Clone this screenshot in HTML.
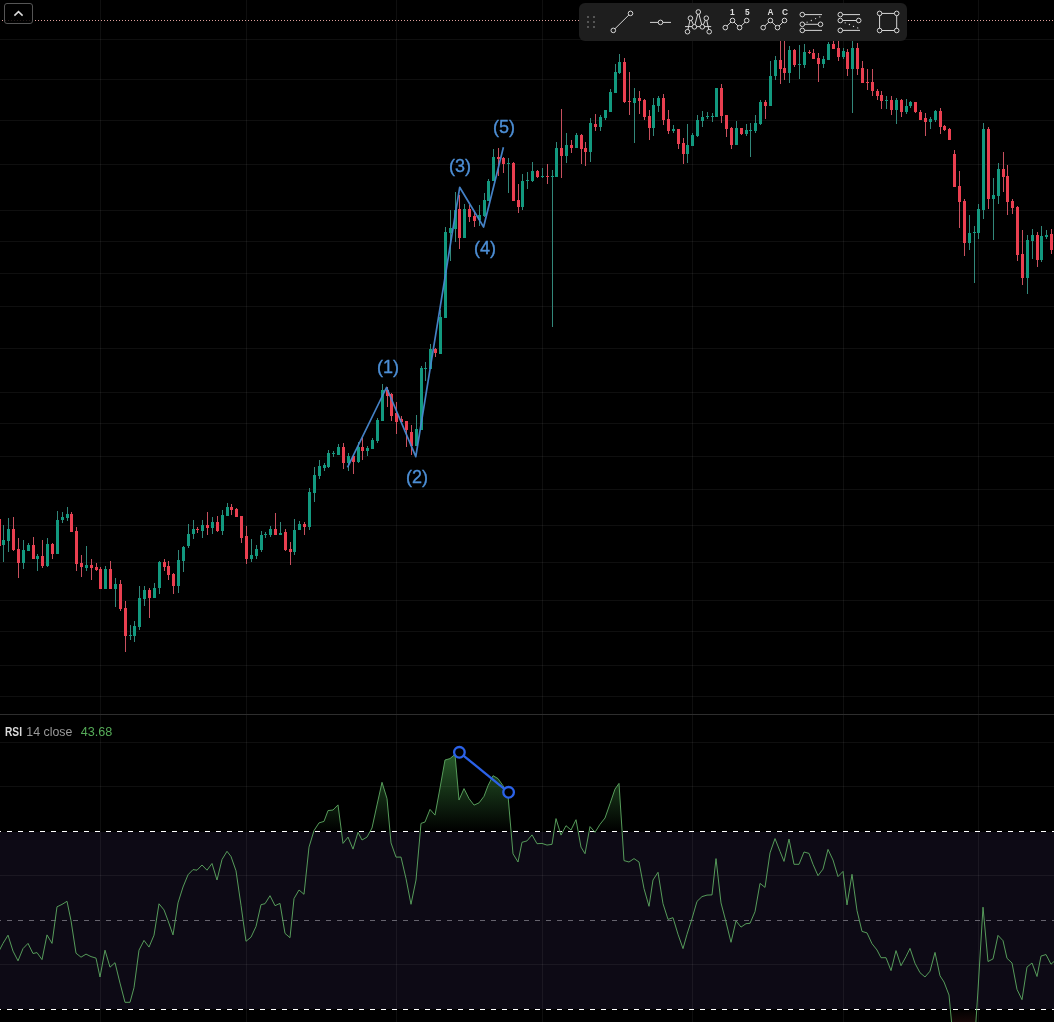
<!DOCTYPE html>
<html lang="en"><head><meta charset="utf-8"><title>Chart</title>
<style>html,body{margin:0;padding:0;background:#000;}body{width:1054px;height:1022px;overflow:hidden;position:relative;font-family:"Liberation Sans",sans-serif;}svg{position:absolute;left:0;top:0;display:block}text{font-family:"Liberation Sans",sans-serif}</style></head><body>
<svg width="1054" height="1022" viewBox="0 0 1054 1022">
<defs>
<linearGradient id="ob" gradientUnits="userSpaceOnUse" x1="0" y1="698" x2="0" y2="831"><stop offset="0" stop-color="#4caf50" stop-opacity="0.9"/><stop offset="1" stop-color="#4caf50" stop-opacity="0"/></linearGradient>
<linearGradient id="os" gradientUnits="userSpaceOnUse" x1="0" y1="1009" x2="0" y2="1142"><stop offset="0" stop-color="#ff5252" stop-opacity="0"/><stop offset="1" stop-color="#ff5252" stop-opacity="1"/></linearGradient>
<clipPath id="cob"><rect x="0" y="715" width="1054" height="116"/></clipPath>
<clipPath id="cos"><rect x="0" y="1010" width="1054" height="12"/></clipPath>
<filter id="idf" x="0" y="0" width="100%" height="100%" filterUnits="userSpaceOnUse" color-interpolation-filters="sRGB"><feColorMatrix type="matrix" values="1 0 0 0 0 0 1 0 0 0 0 0 1 0 0 0 0 0 1 0"/></filter>
</defs>
<rect width="1054" height="1022" fill="#000"/>
<rect x="0" y="832" width="1054" height="177" fill="#0d0a15"/>
<g shape-rendering="crispEdges" fill="#fff" fill-opacity="0.057">
<rect x="100" y="0" width="1" height="1022"/>
<rect x="246" y="0" width="1" height="1022"/>
<rect x="396" y="0" width="1" height="1022"/>
<rect x="542" y="0" width="1" height="1022"/>
<rect x="692" y="0" width="1" height="1022"/>
<rect x="843" y="0" width="1" height="1022"/>
<rect x="978" y="0" width="1" height="1022"/>
<rect x="0" y="39" width="1054" height="1"/>
<rect x="0" y="79" width="1054" height="1"/>
<rect x="0" y="120" width="1054" height="1"/>
<rect x="0" y="164" width="1054" height="1"/>
<rect x="0" y="210" width="1054" height="1"/>
<rect x="0" y="241" width="1054" height="1"/>
<rect x="0" y="273" width="1054" height="1"/>
<rect x="0" y="306" width="1054" height="1"/>
<rect x="0" y="348" width="1054" height="1"/>
<rect x="0" y="392" width="1054" height="1"/>
<rect x="0" y="423" width="1054" height="1"/>
<rect x="0" y="456" width="1054" height="1"/>
<rect x="0" y="489" width="1054" height="1"/>
<rect x="0" y="525" width="1054" height="1"/>
<rect x="0" y="562" width="1054" height="1"/>
<rect x="0" y="600" width="1054" height="1"/>
<rect x="0" y="631" width="1054" height="1"/>
<rect x="0" y="665" width="1054" height="1"/>
<rect x="0" y="696" width="1054" height="1"/>
<rect x="0" y="742" width="1054" height="1"/>
<rect x="0" y="786" width="1054" height="1"/>
<rect x="0" y="875" width="1054" height="1"/>
<rect x="0" y="964" width="1054" height="1"/>
</g>
<g shape-rendering="crispEdges" fill="#e0a09c">
<rect x="2" y="20" width="1" height="1"/><rect x="5" y="20" width="1" height="1"/><rect x="8" y="20" width="1" height="1"/><rect x="11" y="20" width="1" height="1"/><rect x="14" y="20" width="1" height="1"/><rect x="17" y="20" width="1" height="1"/><rect x="20" y="20" width="1" height="1"/><rect x="23" y="20" width="1" height="1"/><rect x="26" y="20" width="1" height="1"/><rect x="29" y="20" width="1" height="1"/><rect x="32" y="20" width="1" height="1"/><rect x="35" y="20" width="1" height="1"/><rect x="38" y="20" width="1" height="1"/><rect x="41" y="20" width="1" height="1"/><rect x="44" y="20" width="1" height="1"/><rect x="47" y="20" width="1" height="1"/><rect x="50" y="20" width="1" height="1"/><rect x="53" y="20" width="1" height="1"/><rect x="56" y="20" width="1" height="1"/><rect x="59" y="20" width="1" height="1"/><rect x="62" y="20" width="1" height="1"/><rect x="65" y="20" width="1" height="1"/><rect x="68" y="20" width="1" height="1"/><rect x="71" y="20" width="1" height="1"/><rect x="74" y="20" width="1" height="1"/><rect x="77" y="20" width="1" height="1"/><rect x="80" y="20" width="1" height="1"/><rect x="83" y="20" width="1" height="1"/><rect x="86" y="20" width="1" height="1"/><rect x="89" y="20" width="1" height="1"/><rect x="92" y="20" width="1" height="1"/><rect x="95" y="20" width="1" height="1"/><rect x="98" y="20" width="1" height="1"/><rect x="101" y="20" width="1" height="1"/><rect x="104" y="20" width="1" height="1"/><rect x="107" y="20" width="1" height="1"/><rect x="110" y="20" width="1" height="1"/><rect x="113" y="20" width="1" height="1"/><rect x="116" y="20" width="1" height="1"/><rect x="119" y="20" width="1" height="1"/><rect x="122" y="20" width="1" height="1"/><rect x="125" y="20" width="1" height="1"/><rect x="128" y="20" width="1" height="1"/><rect x="131" y="20" width="1" height="1"/><rect x="134" y="20" width="1" height="1"/><rect x="137" y="20" width="1" height="1"/><rect x="140" y="20" width="1" height="1"/><rect x="143" y="20" width="1" height="1"/><rect x="146" y="20" width="1" height="1"/><rect x="149" y="20" width="1" height="1"/><rect x="152" y="20" width="1" height="1"/><rect x="155" y="20" width="1" height="1"/><rect x="158" y="20" width="1" height="1"/><rect x="161" y="20" width="1" height="1"/><rect x="164" y="20" width="1" height="1"/><rect x="167" y="20" width="1" height="1"/><rect x="170" y="20" width="1" height="1"/><rect x="173" y="20" width="1" height="1"/><rect x="176" y="20" width="1" height="1"/><rect x="179" y="20" width="1" height="1"/><rect x="182" y="20" width="1" height="1"/><rect x="185" y="20" width="1" height="1"/><rect x="188" y="20" width="1" height="1"/><rect x="191" y="20" width="1" height="1"/><rect x="194" y="20" width="1" height="1"/><rect x="197" y="20" width="1" height="1"/><rect x="200" y="20" width="1" height="1"/><rect x="203" y="20" width="1" height="1"/><rect x="206" y="20" width="1" height="1"/><rect x="209" y="20" width="1" height="1"/><rect x="212" y="20" width="1" height="1"/><rect x="215" y="20" width="1" height="1"/><rect x="218" y="20" width="1" height="1"/><rect x="221" y="20" width="1" height="1"/><rect x="224" y="20" width="1" height="1"/><rect x="227" y="20" width="1" height="1"/><rect x="230" y="20" width="1" height="1"/><rect x="233" y="20" width="1" height="1"/><rect x="236" y="20" width="1" height="1"/><rect x="239" y="20" width="1" height="1"/><rect x="242" y="20" width="1" height="1"/><rect x="245" y="20" width="1" height="1"/><rect x="248" y="20" width="1" height="1"/><rect x="251" y="20" width="1" height="1"/><rect x="254" y="20" width="1" height="1"/><rect x="257" y="20" width="1" height="1"/><rect x="260" y="20" width="1" height="1"/><rect x="263" y="20" width="1" height="1"/><rect x="266" y="20" width="1" height="1"/><rect x="269" y="20" width="1" height="1"/><rect x="272" y="20" width="1" height="1"/><rect x="275" y="20" width="1" height="1"/><rect x="278" y="20" width="1" height="1"/><rect x="281" y="20" width="1" height="1"/><rect x="284" y="20" width="1" height="1"/><rect x="287" y="20" width="1" height="1"/><rect x="290" y="20" width="1" height="1"/><rect x="293" y="20" width="1" height="1"/><rect x="296" y="20" width="1" height="1"/><rect x="299" y="20" width="1" height="1"/><rect x="302" y="20" width="1" height="1"/><rect x="305" y="20" width="1" height="1"/><rect x="308" y="20" width="1" height="1"/><rect x="311" y="20" width="1" height="1"/><rect x="314" y="20" width="1" height="1"/><rect x="317" y="20" width="1" height="1"/><rect x="320" y="20" width="1" height="1"/><rect x="323" y="20" width="1" height="1"/><rect x="326" y="20" width="1" height="1"/><rect x="329" y="20" width="1" height="1"/><rect x="332" y="20" width="1" height="1"/><rect x="335" y="20" width="1" height="1"/><rect x="338" y="20" width="1" height="1"/><rect x="341" y="20" width="1" height="1"/><rect x="344" y="20" width="1" height="1"/><rect x="347" y="20" width="1" height="1"/><rect x="350" y="20" width="1" height="1"/><rect x="353" y="20" width="1" height="1"/><rect x="356" y="20" width="1" height="1"/><rect x="359" y="20" width="1" height="1"/><rect x="362" y="20" width="1" height="1"/><rect x="365" y="20" width="1" height="1"/><rect x="368" y="20" width="1" height="1"/><rect x="371" y="20" width="1" height="1"/><rect x="374" y="20" width="1" height="1"/><rect x="377" y="20" width="1" height="1"/><rect x="380" y="20" width="1" height="1"/><rect x="383" y="20" width="1" height="1"/><rect x="386" y="20" width="1" height="1"/><rect x="389" y="20" width="1" height="1"/><rect x="392" y="20" width="1" height="1"/><rect x="395" y="20" width="1" height="1"/><rect x="398" y="20" width="1" height="1"/><rect x="401" y="20" width="1" height="1"/><rect x="404" y="20" width="1" height="1"/><rect x="407" y="20" width="1" height="1"/><rect x="410" y="20" width="1" height="1"/><rect x="413" y="20" width="1" height="1"/><rect x="416" y="20" width="1" height="1"/><rect x="419" y="20" width="1" height="1"/><rect x="422" y="20" width="1" height="1"/><rect x="425" y="20" width="1" height="1"/><rect x="428" y="20" width="1" height="1"/><rect x="431" y="20" width="1" height="1"/><rect x="434" y="20" width="1" height="1"/><rect x="437" y="20" width="1" height="1"/><rect x="440" y="20" width="1" height="1"/><rect x="443" y="20" width="1" height="1"/><rect x="446" y="20" width="1" height="1"/><rect x="449" y="20" width="1" height="1"/><rect x="452" y="20" width="1" height="1"/><rect x="455" y="20" width="1" height="1"/><rect x="458" y="20" width="1" height="1"/><rect x="461" y="20" width="1" height="1"/><rect x="464" y="20" width="1" height="1"/><rect x="467" y="20" width="1" height="1"/><rect x="470" y="20" width="1" height="1"/><rect x="473" y="20" width="1" height="1"/><rect x="476" y="20" width="1" height="1"/><rect x="479" y="20" width="1" height="1"/><rect x="482" y="20" width="1" height="1"/><rect x="485" y="20" width="1" height="1"/><rect x="488" y="20" width="1" height="1"/><rect x="491" y="20" width="1" height="1"/><rect x="494" y="20" width="1" height="1"/><rect x="497" y="20" width="1" height="1"/><rect x="500" y="20" width="1" height="1"/><rect x="503" y="20" width="1" height="1"/><rect x="506" y="20" width="1" height="1"/><rect x="509" y="20" width="1" height="1"/><rect x="512" y="20" width="1" height="1"/><rect x="515" y="20" width="1" height="1"/><rect x="518" y="20" width="1" height="1"/><rect x="521" y="20" width="1" height="1"/><rect x="524" y="20" width="1" height="1"/><rect x="527" y="20" width="1" height="1"/><rect x="530" y="20" width="1" height="1"/><rect x="533" y="20" width="1" height="1"/><rect x="536" y="20" width="1" height="1"/><rect x="539" y="20" width="1" height="1"/><rect x="542" y="20" width="1" height="1"/><rect x="545" y="20" width="1" height="1"/><rect x="548" y="20" width="1" height="1"/><rect x="551" y="20" width="1" height="1"/><rect x="554" y="20" width="1" height="1"/><rect x="557" y="20" width="1" height="1"/><rect x="560" y="20" width="1" height="1"/><rect x="563" y="20" width="1" height="1"/><rect x="566" y="20" width="1" height="1"/><rect x="569" y="20" width="1" height="1"/><rect x="572" y="20" width="1" height="1"/><rect x="575" y="20" width="1" height="1"/><rect x="578" y="20" width="1" height="1"/><rect x="581" y="20" width="1" height="1"/><rect x="584" y="20" width="1" height="1"/><rect x="587" y="20" width="1" height="1"/><rect x="590" y="20" width="1" height="1"/><rect x="593" y="20" width="1" height="1"/><rect x="596" y="20" width="1" height="1"/><rect x="599" y="20" width="1" height="1"/><rect x="602" y="20" width="1" height="1"/><rect x="605" y="20" width="1" height="1"/><rect x="608" y="20" width="1" height="1"/><rect x="611" y="20" width="1" height="1"/><rect x="614" y="20" width="1" height="1"/><rect x="617" y="20" width="1" height="1"/><rect x="620" y="20" width="1" height="1"/><rect x="623" y="20" width="1" height="1"/><rect x="626" y="20" width="1" height="1"/><rect x="629" y="20" width="1" height="1"/><rect x="632" y="20" width="1" height="1"/><rect x="635" y="20" width="1" height="1"/><rect x="638" y="20" width="1" height="1"/><rect x="641" y="20" width="1" height="1"/><rect x="644" y="20" width="1" height="1"/><rect x="647" y="20" width="1" height="1"/><rect x="650" y="20" width="1" height="1"/><rect x="653" y="20" width="1" height="1"/><rect x="656" y="20" width="1" height="1"/><rect x="659" y="20" width="1" height="1"/><rect x="662" y="20" width="1" height="1"/><rect x="665" y="20" width="1" height="1"/><rect x="668" y="20" width="1" height="1"/><rect x="671" y="20" width="1" height="1"/><rect x="674" y="20" width="1" height="1"/><rect x="677" y="20" width="1" height="1"/><rect x="680" y="20" width="1" height="1"/><rect x="683" y="20" width="1" height="1"/><rect x="686" y="20" width="1" height="1"/><rect x="689" y="20" width="1" height="1"/><rect x="692" y="20" width="1" height="1"/><rect x="695" y="20" width="1" height="1"/><rect x="698" y="20" width="1" height="1"/><rect x="701" y="20" width="1" height="1"/><rect x="704" y="20" width="1" height="1"/><rect x="707" y="20" width="1" height="1"/><rect x="710" y="20" width="1" height="1"/><rect x="713" y="20" width="1" height="1"/><rect x="716" y="20" width="1" height="1"/><rect x="719" y="20" width="1" height="1"/><rect x="722" y="20" width="1" height="1"/><rect x="725" y="20" width="1" height="1"/><rect x="728" y="20" width="1" height="1"/><rect x="731" y="20" width="1" height="1"/><rect x="734" y="20" width="1" height="1"/><rect x="737" y="20" width="1" height="1"/><rect x="740" y="20" width="1" height="1"/><rect x="743" y="20" width="1" height="1"/><rect x="746" y="20" width="1" height="1"/><rect x="749" y="20" width="1" height="1"/><rect x="752" y="20" width="1" height="1"/><rect x="755" y="20" width="1" height="1"/><rect x="758" y="20" width="1" height="1"/><rect x="761" y="20" width="1" height="1"/><rect x="764" y="20" width="1" height="1"/><rect x="767" y="20" width="1" height="1"/><rect x="770" y="20" width="1" height="1"/><rect x="773" y="20" width="1" height="1"/><rect x="776" y="20" width="1" height="1"/><rect x="779" y="20" width="1" height="1"/><rect x="782" y="20" width="1" height="1"/><rect x="785" y="20" width="1" height="1"/><rect x="788" y="20" width="1" height="1"/><rect x="791" y="20" width="1" height="1"/><rect x="794" y="20" width="1" height="1"/><rect x="797" y="20" width="1" height="1"/><rect x="800" y="20" width="1" height="1"/><rect x="803" y="20" width="1" height="1"/><rect x="806" y="20" width="1" height="1"/><rect x="809" y="20" width="1" height="1"/><rect x="812" y="20" width="1" height="1"/><rect x="815" y="20" width="1" height="1"/><rect x="818" y="20" width="1" height="1"/><rect x="821" y="20" width="1" height="1"/><rect x="824" y="20" width="1" height="1"/><rect x="827" y="20" width="1" height="1"/><rect x="830" y="20" width="1" height="1"/><rect x="833" y="20" width="1" height="1"/><rect x="836" y="20" width="1" height="1"/><rect x="839" y="20" width="1" height="1"/><rect x="842" y="20" width="1" height="1"/><rect x="845" y="20" width="1" height="1"/><rect x="848" y="20" width="1" height="1"/><rect x="851" y="20" width="1" height="1"/><rect x="854" y="20" width="1" height="1"/><rect x="857" y="20" width="1" height="1"/><rect x="860" y="20" width="1" height="1"/><rect x="863" y="20" width="1" height="1"/><rect x="866" y="20" width="1" height="1"/><rect x="869" y="20" width="1" height="1"/><rect x="872" y="20" width="1" height="1"/><rect x="875" y="20" width="1" height="1"/><rect x="878" y="20" width="1" height="1"/><rect x="881" y="20" width="1" height="1"/><rect x="884" y="20" width="1" height="1"/><rect x="887" y="20" width="1" height="1"/><rect x="890" y="20" width="1" height="1"/><rect x="893" y="20" width="1" height="1"/><rect x="896" y="20" width="1" height="1"/><rect x="899" y="20" width="1" height="1"/><rect x="902" y="20" width="1" height="1"/><rect x="905" y="20" width="1" height="1"/><rect x="908" y="20" width="1" height="1"/><rect x="911" y="20" width="1" height="1"/><rect x="914" y="20" width="1" height="1"/><rect x="917" y="20" width="1" height="1"/><rect x="920" y="20" width="1" height="1"/><rect x="923" y="20" width="1" height="1"/><rect x="926" y="20" width="1" height="1"/><rect x="929" y="20" width="1" height="1"/><rect x="932" y="20" width="1" height="1"/><rect x="935" y="20" width="1" height="1"/><rect x="938" y="20" width="1" height="1"/><rect x="941" y="20" width="1" height="1"/><rect x="944" y="20" width="1" height="1"/><rect x="947" y="20" width="1" height="1"/><rect x="950" y="20" width="1" height="1"/><rect x="953" y="20" width="1" height="1"/><rect x="956" y="20" width="1" height="1"/><rect x="959" y="20" width="1" height="1"/><rect x="962" y="20" width="1" height="1"/><rect x="965" y="20" width="1" height="1"/><rect x="968" y="20" width="1" height="1"/><rect x="971" y="20" width="1" height="1"/><rect x="974" y="20" width="1" height="1"/><rect x="977" y="20" width="1" height="1"/><rect x="980" y="20" width="1" height="1"/><rect x="983" y="20" width="1" height="1"/><rect x="986" y="20" width="1" height="1"/><rect x="989" y="20" width="1" height="1"/><rect x="992" y="20" width="1" height="1"/><rect x="995" y="20" width="1" height="1"/><rect x="998" y="20" width="1" height="1"/><rect x="1001" y="20" width="1" height="1"/><rect x="1004" y="20" width="1" height="1"/><rect x="1007" y="20" width="1" height="1"/><rect x="1010" y="20" width="1" height="1"/><rect x="1013" y="20" width="1" height="1"/><rect x="1016" y="20" width="1" height="1"/><rect x="1019" y="20" width="1" height="1"/><rect x="1022" y="20" width="1" height="1"/><rect x="1025" y="20" width="1" height="1"/><rect x="1028" y="20" width="1" height="1"/><rect x="1031" y="20" width="1" height="1"/><rect x="1034" y="20" width="1" height="1"/><rect x="1037" y="20" width="1" height="1"/><rect x="1040" y="20" width="1" height="1"/><rect x="1043" y="20" width="1" height="1"/><rect x="1046" y="20" width="1" height="1"/><rect x="1049" y="20" width="1" height="1"/><rect x="1052" y="20" width="1" height="1"/>
</g>
<g shape-rendering="crispEdges">
<rect x="0" y="519" width="1" height="27" fill="#ea3f50"/>
<rect x="3" y="525" width="1" height="15" fill="#32877a"/>
<rect x="3" y="545" width="1" height="17" fill="#32877a"/>
<rect x="2" y="540" width="3" height="5" fill="#12997f"/>
<rect x="8" y="518" width="1" height="11" fill="#32877a"/>
<rect x="8" y="541" width="1" height="11" fill="#32877a"/>
<rect x="7" y="529" width="3" height="12" fill="#12997f"/>
<rect x="13" y="517" width="1" height="12" fill="#c8505e"/>
<rect x="13" y="550" width="1" height="1" fill="#c8505e"/>
<rect x="12" y="529" width="3" height="21" fill="#ea3f50"/>
<rect x="18" y="538" width="1" height="11" fill="#c8505e"/>
<rect x="18" y="563" width="1" height="15" fill="#c8505e"/>
<rect x="17" y="549" width="3" height="14" fill="#ea3f50"/>
<rect x="23" y="540" width="1" height="10" fill="#32877a"/>
<rect x="23" y="563" width="1" height="6" fill="#32877a"/>
<rect x="22" y="550" width="3" height="13" fill="#12997f"/>
<rect x="28" y="543" width="1" height="2" fill="#32877a"/>
<rect x="27" y="545" width="3" height="6" fill="#12997f"/>
<rect x="33" y="537" width="1" height="8" fill="#c8505e"/>
<rect x="32" y="545" width="3" height="14" fill="#ea3f50"/>
<rect x="37" y="554" width="1" height="2" fill="#32877a"/>
<rect x="37" y="559" width="1" height="12" fill="#32877a"/>
<rect x="36" y="556" width="3" height="3" fill="#12997f"/>
<rect x="42" y="540" width="1" height="16" fill="#c8505e"/>
<rect x="42" y="566" width="1" height="2" fill="#c8505e"/>
<rect x="41" y="556" width="3" height="10" fill="#ea3f50"/>
<rect x="47" y="538" width="1" height="6" fill="#32877a"/>
<rect x="47" y="566" width="1" height="1" fill="#32877a"/>
<rect x="46" y="544" width="3" height="22" fill="#12997f"/>
<rect x="52" y="543" width="1" height="1" fill="#c8505e"/>
<rect x="52" y="554" width="1" height="5" fill="#c8505e"/>
<rect x="51" y="544" width="3" height="10" fill="#ea3f50"/>
<rect x="57" y="511" width="1" height="9" fill="#32877a"/>
<rect x="56" y="520" width="3" height="34" fill="#12997f"/>
<rect x="62" y="512" width="1" height="5" fill="#32877a"/>
<rect x="62" y="520" width="1" height="3" fill="#32877a"/>
<rect x="61" y="517" width="3" height="3" fill="#12997f"/>
<rect x="67" y="507" width="1" height="7" fill="#32877a"/>
<rect x="67" y="518" width="1" height="3" fill="#32877a"/>
<rect x="66" y="514" width="3" height="4" fill="#12997f"/>
<rect x="71" y="512" width="1" height="2" fill="#c8505e"/>
<rect x="70" y="514" width="3" height="18" fill="#ea3f50"/>
<rect x="76" y="527" width="1" height="4" fill="#c8505e"/>
<rect x="76" y="564" width="1" height="7" fill="#c8505e"/>
<rect x="75" y="531" width="3" height="33" fill="#ea3f50"/>
<rect x="81" y="555" width="1" height="8" fill="#c8505e"/>
<rect x="81" y="567" width="1" height="10" fill="#c8505e"/>
<rect x="80" y="563" width="3" height="4" fill="#ea3f50"/>
<rect x="86" y="546" width="1" height="19" fill="#32877a"/>
<rect x="86" y="568" width="1" height="3" fill="#32877a"/>
<rect x="85" y="565" width="3" height="3" fill="#12997f"/>
<rect x="91" y="559" width="1" height="6" fill="#c8505e"/>
<rect x="91" y="568" width="1" height="12" fill="#c8505e"/>
<rect x="90" y="565" width="3" height="3" fill="#ea3f50"/>
<rect x="96" y="563" width="1" height="4" fill="#c8505e"/>
<rect x="96" y="570" width="1" height="1" fill="#c8505e"/>
<rect x="95" y="567" width="3" height="3" fill="#ea3f50"/>
<rect x="100" y="567" width="1" height="2" fill="#c8505e"/>
<rect x="99" y="569" width="3" height="20" fill="#ea3f50"/>
<rect x="105" y="566" width="1" height="3" fill="#32877a"/>
<rect x="104" y="569" width="3" height="20" fill="#12997f"/>
<rect x="110" y="561" width="1" height="8" fill="#c8505e"/>
<rect x="109" y="569" width="3" height="20" fill="#ea3f50"/>
<rect x="115" y="578" width="1" height="6" fill="#32877a"/>
<rect x="115" y="589" width="1" height="18" fill="#32877a"/>
<rect x="114" y="584" width="3" height="5" fill="#12997f"/>
<rect x="120" y="580" width="1" height="4" fill="#c8505e"/>
<rect x="120" y="609" width="1" height="2" fill="#c8505e"/>
<rect x="119" y="584" width="3" height="25" fill="#ea3f50"/>
<rect x="125" y="601" width="1" height="7" fill="#c8505e"/>
<rect x="125" y="636" width="1" height="16" fill="#c8505e"/>
<rect x="124" y="608" width="3" height="28" fill="#ea3f50"/>
<rect x="130" y="625" width="1" height="10" fill="#32877a"/>
<rect x="130" y="636" width="1" height="4" fill="#32877a"/>
<rect x="129" y="635" width="3" height="1" fill="#12997f"/>
<rect x="134" y="621" width="1" height="5" fill="#32877a"/>
<rect x="134" y="636" width="1" height="6" fill="#32877a"/>
<rect x="133" y="626" width="3" height="10" fill="#12997f"/>
<rect x="139" y="586" width="1" height="12" fill="#32877a"/>
<rect x="139" y="627" width="1" height="3" fill="#32877a"/>
<rect x="138" y="598" width="3" height="29" fill="#12997f"/>
<rect x="144" y="586" width="1" height="4" fill="#32877a"/>
<rect x="144" y="599" width="1" height="7" fill="#32877a"/>
<rect x="143" y="590" width="3" height="9" fill="#12997f"/>
<rect x="149" y="588" width="1" height="2" fill="#c8505e"/>
<rect x="149" y="598" width="1" height="20" fill="#c8505e"/>
<rect x="148" y="590" width="3" height="8" fill="#ea3f50"/>
<rect x="154" y="583" width="1" height="5" fill="#32877a"/>
<rect x="153" y="588" width="3" height="10" fill="#12997f"/>
<rect x="159" y="561" width="1" height="1" fill="#32877a"/>
<rect x="159" y="588" width="1" height="6" fill="#32877a"/>
<rect x="158" y="562" width="3" height="26" fill="#12997f"/>
<rect x="164" y="559" width="1" height="3" fill="#c8505e"/>
<rect x="164" y="567" width="1" height="4" fill="#c8505e"/>
<rect x="163" y="562" width="3" height="5" fill="#ea3f50"/>
<rect x="168" y="561" width="1" height="5" fill="#c8505e"/>
<rect x="168" y="575" width="1" height="5" fill="#c8505e"/>
<rect x="167" y="566" width="3" height="9" fill="#ea3f50"/>
<rect x="173" y="573" width="1" height="1" fill="#c8505e"/>
<rect x="173" y="586" width="1" height="8" fill="#c8505e"/>
<rect x="172" y="574" width="3" height="12" fill="#ea3f50"/>
<rect x="178" y="550" width="1" height="10" fill="#32877a"/>
<rect x="178" y="586" width="1" height="7" fill="#32877a"/>
<rect x="177" y="560" width="3" height="26" fill="#12997f"/>
<rect x="183" y="546" width="1" height="1" fill="#32877a"/>
<rect x="183" y="561" width="1" height="11" fill="#32877a"/>
<rect x="182" y="547" width="3" height="14" fill="#12997f"/>
<rect x="188" y="524" width="1" height="10" fill="#32877a"/>
<rect x="188" y="546" width="1" height="2" fill="#32877a"/>
<rect x="187" y="534" width="3" height="12" fill="#12997f"/>
<rect x="193" y="520" width="1" height="9" fill="#32877a"/>
<rect x="193" y="534" width="1" height="5" fill="#32877a"/>
<rect x="192" y="529" width="3" height="5" fill="#12997f"/>
<rect x="197" y="527" width="1" height="2" fill="#c8505e"/>
<rect x="197" y="530" width="1" height="3" fill="#c8505e"/>
<rect x="196" y="529" width="3" height="1" fill="#ea3f50"/>
<rect x="202" y="520" width="1" height="5" fill="#32877a"/>
<rect x="202" y="531" width="1" height="7" fill="#32877a"/>
<rect x="201" y="525" width="3" height="6" fill="#12997f"/>
<rect x="207" y="512" width="1" height="13" fill="#c8505e"/>
<rect x="207" y="528" width="1" height="7" fill="#c8505e"/>
<rect x="206" y="525" width="3" height="3" fill="#ea3f50"/>
<rect x="212" y="517" width="1" height="5" fill="#32877a"/>
<rect x="212" y="528" width="1" height="6" fill="#32877a"/>
<rect x="211" y="522" width="3" height="6" fill="#12997f"/>
<rect x="217" y="516" width="1" height="6" fill="#c8505e"/>
<rect x="217" y="531" width="1" height="1" fill="#c8505e"/>
<rect x="216" y="522" width="3" height="9" fill="#ea3f50"/>
<rect x="222" y="510" width="1" height="5" fill="#32877a"/>
<rect x="222" y="531" width="1" height="4" fill="#32877a"/>
<rect x="221" y="515" width="3" height="16" fill="#12997f"/>
<rect x="227" y="503" width="1" height="4" fill="#32877a"/>
<rect x="226" y="507" width="3" height="9" fill="#12997f"/>
<rect x="231" y="504" width="1" height="3" fill="#c8505e"/>
<rect x="231" y="510" width="1" height="5" fill="#c8505e"/>
<rect x="230" y="507" width="3" height="3" fill="#ea3f50"/>
<rect x="236" y="508" width="1" height="1" fill="#c8505e"/>
<rect x="235" y="509" width="3" height="8" fill="#ea3f50"/>
<rect x="241" y="538" width="1" height="5" fill="#c8505e"/>
<rect x="240" y="516" width="3" height="22" fill="#ea3f50"/>
<rect x="246" y="526" width="1" height="10" fill="#c8505e"/>
<rect x="246" y="559" width="1" height="5" fill="#c8505e"/>
<rect x="245" y="536" width="3" height="23" fill="#ea3f50"/>
<rect x="251" y="539" width="1" height="16" fill="#32877a"/>
<rect x="251" y="559" width="1" height="3" fill="#32877a"/>
<rect x="250" y="555" width="3" height="4" fill="#12997f"/>
<rect x="256" y="545" width="1" height="4" fill="#32877a"/>
<rect x="256" y="556" width="1" height="3" fill="#32877a"/>
<rect x="255" y="549" width="3" height="7" fill="#12997f"/>
<rect x="261" y="531" width="1" height="4" fill="#32877a"/>
<rect x="261" y="550" width="1" height="2" fill="#32877a"/>
<rect x="260" y="535" width="3" height="15" fill="#12997f"/>
<rect x="265" y="532" width="1" height="2" fill="#32877a"/>
<rect x="265" y="535" width="1" height="3" fill="#32877a"/>
<rect x="264" y="534" width="3" height="1" fill="#12997f"/>
<rect x="270" y="526" width="1" height="3" fill="#32877a"/>
<rect x="270" y="535" width="1" height="2" fill="#32877a"/>
<rect x="269" y="529" width="3" height="6" fill="#12997f"/>
<rect x="275" y="513" width="1" height="16" fill="#c8505e"/>
<rect x="274" y="529" width="3" height="6" fill="#ea3f50"/>
<rect x="280" y="522" width="1" height="11" fill="#32877a"/>
<rect x="279" y="533" width="3" height="2" fill="#12997f"/>
<rect x="285" y="529" width="1" height="3" fill="#c8505e"/>
<rect x="285" y="550" width="1" height="1" fill="#c8505e"/>
<rect x="284" y="532" width="3" height="18" fill="#ea3f50"/>
<rect x="290" y="542" width="1" height="7" fill="#c8505e"/>
<rect x="290" y="552" width="1" height="13" fill="#c8505e"/>
<rect x="289" y="549" width="3" height="3" fill="#ea3f50"/>
<rect x="294" y="519" width="1" height="11" fill="#32877a"/>
<rect x="294" y="552" width="1" height="3" fill="#32877a"/>
<rect x="293" y="530" width="3" height="22" fill="#12997f"/>
<rect x="299" y="521" width="1" height="3" fill="#32877a"/>
<rect x="298" y="524" width="3" height="6" fill="#12997f"/>
<rect x="304" y="522" width="1" height="2" fill="#c8505e"/>
<rect x="304" y="527" width="1" height="8" fill="#c8505e"/>
<rect x="303" y="524" width="3" height="3" fill="#ea3f50"/>
<rect x="309" y="488" width="1" height="4" fill="#32877a"/>
<rect x="309" y="527" width="1" height="3" fill="#32877a"/>
<rect x="308" y="492" width="3" height="35" fill="#12997f"/>
<rect x="314" y="467" width="1" height="8" fill="#32877a"/>
<rect x="314" y="493" width="1" height="9" fill="#32877a"/>
<rect x="313" y="475" width="3" height="18" fill="#12997f"/>
<rect x="319" y="460" width="1" height="6" fill="#32877a"/>
<rect x="319" y="476" width="1" height="3" fill="#32877a"/>
<rect x="318" y="466" width="3" height="10" fill="#12997f"/>
<rect x="324" y="463" width="1" height="2" fill="#32877a"/>
<rect x="324" y="468" width="1" height="3" fill="#32877a"/>
<rect x="323" y="465" width="3" height="3" fill="#12997f"/>
<rect x="328" y="450" width="1" height="3" fill="#32877a"/>
<rect x="328" y="467" width="1" height="1" fill="#32877a"/>
<rect x="327" y="453" width="3" height="14" fill="#12997f"/>
<rect x="333" y="451" width="1" height="2" fill="#32877a"/>
<rect x="333" y="454" width="1" height="3" fill="#32877a"/>
<rect x="332" y="453" width="3" height="1" fill="#12997f"/>
<rect x="338" y="444" width="1" height="3" fill="#32877a"/>
<rect x="337" y="447" width="3" height="8" fill="#12997f"/>
<rect x="343" y="443" width="1" height="4" fill="#c8505e"/>
<rect x="343" y="463" width="1" height="6" fill="#c8505e"/>
<rect x="342" y="447" width="3" height="16" fill="#ea3f50"/>
<rect x="348" y="453" width="1" height="3" fill="#32877a"/>
<rect x="348" y="463" width="1" height="8" fill="#32877a"/>
<rect x="347" y="456" width="3" height="7" fill="#12997f"/>
<rect x="353" y="462" width="1" height="12" fill="#c8505e"/>
<rect x="352" y="456" width="3" height="6" fill="#ea3f50"/>
<rect x="358" y="442" width="1" height="5" fill="#32877a"/>
<rect x="358" y="462" width="1" height="1" fill="#32877a"/>
<rect x="357" y="447" width="3" height="15" fill="#12997f"/>
<rect x="362" y="438" width="1" height="9" fill="#c8505e"/>
<rect x="362" y="451" width="1" height="9" fill="#c8505e"/>
<rect x="361" y="447" width="3" height="4" fill="#ea3f50"/>
<rect x="367" y="446" width="1" height="2" fill="#32877a"/>
<rect x="367" y="451" width="1" height="5" fill="#32877a"/>
<rect x="366" y="448" width="3" height="3" fill="#12997f"/>
<rect x="372" y="438" width="1" height="2" fill="#32877a"/>
<rect x="371" y="440" width="3" height="9" fill="#12997f"/>
<rect x="377" y="418" width="1" height="2" fill="#32877a"/>
<rect x="377" y="441" width="1" height="2" fill="#32877a"/>
<rect x="376" y="420" width="3" height="21" fill="#12997f"/>
<rect x="382" y="384" width="1" height="6" fill="#32877a"/>
<rect x="381" y="390" width="3" height="31" fill="#12997f"/>
<rect x="387" y="387" width="1" height="3" fill="#c8505e"/>
<rect x="387" y="396" width="1" height="11" fill="#c8505e"/>
<rect x="386" y="390" width="3" height="6" fill="#ea3f50"/>
<rect x="391" y="393" width="1" height="1" fill="#c8505e"/>
<rect x="391" y="416" width="1" height="5" fill="#c8505e"/>
<rect x="390" y="394" width="3" height="22" fill="#ea3f50"/>
<rect x="396" y="402" width="1" height="11" fill="#c8505e"/>
<rect x="396" y="422" width="1" height="12" fill="#c8505e"/>
<rect x="395" y="413" width="3" height="9" fill="#ea3f50"/>
<rect x="401" y="416" width="1" height="3" fill="#c8505e"/>
<rect x="400" y="419" width="3" height="3" fill="#ea3f50"/>
<rect x="406" y="430" width="1" height="17" fill="#c8505e"/>
<rect x="405" y="421" width="3" height="9" fill="#ea3f50"/>
<rect x="411" y="425" width="1" height="7" fill="#c8505e"/>
<rect x="411" y="446" width="1" height="9" fill="#c8505e"/>
<rect x="410" y="432" width="3" height="14" fill="#ea3f50"/>
<rect x="416" y="415" width="1" height="14" fill="#32877a"/>
<rect x="415" y="429" width="3" height="17" fill="#12997f"/>
<rect x="421" y="366" width="1" height="2" fill="#32877a"/>
<rect x="420" y="368" width="3" height="62" fill="#12997f"/>
<rect x="425" y="362" width="1" height="6" fill="#32877a"/>
<rect x="425" y="369" width="1" height="12" fill="#32877a"/>
<rect x="424" y="368" width="3" height="1" fill="#12997f"/>
<rect x="430" y="344" width="1" height="5" fill="#32877a"/>
<rect x="429" y="349" width="3" height="20" fill="#12997f"/>
<rect x="435" y="348" width="1" height="1" fill="#c8505e"/>
<rect x="435" y="353" width="1" height="4" fill="#c8505e"/>
<rect x="434" y="349" width="3" height="4" fill="#ea3f50"/>
<rect x="440" y="310" width="1" height="7" fill="#32877a"/>
<rect x="439" y="317" width="3" height="37" fill="#12997f"/>
<rect x="445" y="227" width="1" height="5" fill="#32877a"/>
<rect x="444" y="232" width="3" height="86" fill="#12997f"/>
<rect x="450" y="210" width="1" height="18" fill="#32877a"/>
<rect x="450" y="233" width="1" height="28" fill="#32877a"/>
<rect x="449" y="228" width="3" height="5" fill="#12997f"/>
<rect x="455" y="192" width="1" height="18" fill="#32877a"/>
<rect x="455" y="229" width="1" height="13" fill="#32877a"/>
<rect x="454" y="210" width="3" height="19" fill="#12997f"/>
<rect x="459" y="195" width="1" height="14" fill="#c8505e"/>
<rect x="459" y="238" width="1" height="11" fill="#c8505e"/>
<rect x="458" y="209" width="3" height="29" fill="#ea3f50"/>
<rect x="464" y="204" width="1" height="5" fill="#32877a"/>
<rect x="463" y="209" width="3" height="29" fill="#12997f"/>
<rect x="469" y="205" width="1" height="4" fill="#c8505e"/>
<rect x="469" y="217" width="1" height="5" fill="#c8505e"/>
<rect x="468" y="209" width="3" height="8" fill="#ea3f50"/>
<rect x="474" y="211" width="1" height="5" fill="#c8505e"/>
<rect x="474" y="221" width="1" height="6" fill="#c8505e"/>
<rect x="473" y="216" width="3" height="5" fill="#ea3f50"/>
<rect x="479" y="205" width="1" height="10" fill="#32877a"/>
<rect x="479" y="220" width="1" height="6" fill="#32877a"/>
<rect x="478" y="215" width="3" height="5" fill="#12997f"/>
<rect x="484" y="193" width="1" height="7" fill="#32877a"/>
<rect x="484" y="216" width="1" height="1" fill="#32877a"/>
<rect x="483" y="200" width="3" height="16" fill="#12997f"/>
<rect x="488" y="179" width="1" height="2" fill="#32877a"/>
<rect x="487" y="181" width="3" height="20" fill="#12997f"/>
<rect x="493" y="149" width="1" height="8" fill="#32877a"/>
<rect x="492" y="157" width="3" height="24" fill="#12997f"/>
<rect x="498" y="148" width="1" height="9" fill="#c8505e"/>
<rect x="498" y="159" width="1" height="17" fill="#c8505e"/>
<rect x="497" y="157" width="3" height="2" fill="#ea3f50"/>
<rect x="503" y="157" width="1" height="1" fill="#c8505e"/>
<rect x="503" y="164" width="1" height="9" fill="#c8505e"/>
<rect x="502" y="158" width="3" height="6" fill="#ea3f50"/>
<rect x="508" y="158" width="1" height="5" fill="#32877a"/>
<rect x="508" y="164" width="1" height="29" fill="#32877a"/>
<rect x="507" y="163" width="3" height="1" fill="#12997f"/>
<rect x="513" y="162" width="1" height="1" fill="#c8505e"/>
<rect x="512" y="163" width="3" height="38" fill="#ea3f50"/>
<rect x="518" y="184" width="1" height="16" fill="#c8505e"/>
<rect x="518" y="207" width="1" height="6" fill="#c8505e"/>
<rect x="517" y="200" width="3" height="7" fill="#ea3f50"/>
<rect x="522" y="174" width="1" height="7" fill="#32877a"/>
<rect x="522" y="207" width="1" height="3" fill="#32877a"/>
<rect x="521" y="181" width="3" height="26" fill="#12997f"/>
<rect x="527" y="172" width="1" height="8" fill="#32877a"/>
<rect x="527" y="181" width="1" height="8" fill="#32877a"/>
<rect x="526" y="180" width="3" height="1" fill="#12997f"/>
<rect x="532" y="162" width="1" height="9" fill="#32877a"/>
<rect x="532" y="181" width="1" height="1" fill="#32877a"/>
<rect x="531" y="171" width="3" height="10" fill="#12997f"/>
<rect x="537" y="170" width="1" height="1" fill="#c8505e"/>
<rect x="537" y="177" width="1" height="1" fill="#c8505e"/>
<rect x="536" y="171" width="3" height="6" fill="#ea3f50"/>
<rect x="542" y="168" width="1" height="8" fill="#32877a"/>
<rect x="542" y="177" width="1" height="1" fill="#32877a"/>
<rect x="541" y="176" width="3" height="1" fill="#12997f"/>
<rect x="547" y="164" width="1" height="12" fill="#c8505e"/>
<rect x="547" y="177" width="1" height="7" fill="#c8505e"/>
<rect x="546" y="176" width="3" height="1" fill="#ea3f50"/>
<rect x="552" y="170" width="1" height="6" fill="#32877a"/>
<rect x="552" y="177" width="1" height="150" fill="#32877a"/>
<rect x="551" y="176" width="3" height="1" fill="#12997f"/>
<rect x="556" y="142" width="1" height="6" fill="#32877a"/>
<rect x="555" y="148" width="3" height="29" fill="#12997f"/>
<rect x="561" y="109" width="1" height="39" fill="#c8505e"/>
<rect x="561" y="156" width="1" height="22" fill="#c8505e"/>
<rect x="560" y="148" width="3" height="8" fill="#ea3f50"/>
<rect x="566" y="133" width="1" height="12" fill="#32877a"/>
<rect x="566" y="156" width="1" height="7" fill="#32877a"/>
<rect x="565" y="145" width="3" height="11" fill="#12997f"/>
<rect x="571" y="140" width="1" height="5" fill="#c8505e"/>
<rect x="571" y="148" width="1" height="5" fill="#c8505e"/>
<rect x="570" y="145" width="3" height="3" fill="#ea3f50"/>
<rect x="576" y="133" width="1" height="2" fill="#32877a"/>
<rect x="575" y="135" width="3" height="13" fill="#12997f"/>
<rect x="581" y="134" width="1" height="1" fill="#c8505e"/>
<rect x="581" y="149" width="1" height="15" fill="#c8505e"/>
<rect x="580" y="135" width="3" height="14" fill="#ea3f50"/>
<rect x="585" y="142" width="1" height="6" fill="#c8505e"/>
<rect x="585" y="152" width="1" height="14" fill="#c8505e"/>
<rect x="584" y="148" width="3" height="4" fill="#ea3f50"/>
<rect x="590" y="118" width="1" height="5" fill="#32877a"/>
<rect x="590" y="152" width="1" height="10" fill="#32877a"/>
<rect x="589" y="123" width="3" height="29" fill="#12997f"/>
<rect x="595" y="114" width="1" height="10" fill="#c8505e"/>
<rect x="595" y="127" width="1" height="4" fill="#c8505e"/>
<rect x="594" y="124" width="3" height="3" fill="#ea3f50"/>
<rect x="600" y="115" width="1" height="2" fill="#32877a"/>
<rect x="600" y="127" width="1" height="4" fill="#32877a"/>
<rect x="599" y="117" width="3" height="10" fill="#12997f"/>
<rect x="605" y="118" width="1" height="2" fill="#32877a"/>
<rect x="604" y="110" width="3" height="8" fill="#12997f"/>
<rect x="610" y="89" width="1" height="3" fill="#32877a"/>
<rect x="609" y="92" width="3" height="20" fill="#12997f"/>
<rect x="615" y="64" width="1" height="8" fill="#32877a"/>
<rect x="614" y="72" width="3" height="21" fill="#12997f"/>
<rect x="619" y="54" width="1" height="8" fill="#32877a"/>
<rect x="619" y="73" width="1" height="1" fill="#32877a"/>
<rect x="618" y="62" width="3" height="11" fill="#12997f"/>
<rect x="624" y="58" width="1" height="4" fill="#c8505e"/>
<rect x="624" y="102" width="1" height="1" fill="#c8505e"/>
<rect x="623" y="62" width="3" height="40" fill="#ea3f50"/>
<rect x="629" y="72" width="1" height="29" fill="#c8505e"/>
<rect x="629" y="102" width="1" height="13" fill="#c8505e"/>
<rect x="628" y="101" width="3" height="1" fill="#ea3f50"/>
<rect x="634" y="88" width="1" height="10" fill="#32877a"/>
<rect x="634" y="103" width="1" height="40" fill="#32877a"/>
<rect x="633" y="98" width="3" height="5" fill="#12997f"/>
<rect x="639" y="91" width="1" height="7" fill="#c8505e"/>
<rect x="639" y="101" width="1" height="13" fill="#c8505e"/>
<rect x="638" y="98" width="3" height="3" fill="#ea3f50"/>
<rect x="644" y="99" width="1" height="1" fill="#c8505e"/>
<rect x="644" y="117" width="1" height="3" fill="#c8505e"/>
<rect x="643" y="100" width="3" height="17" fill="#ea3f50"/>
<rect x="649" y="110" width="1" height="6" fill="#c8505e"/>
<rect x="649" y="128" width="1" height="12" fill="#c8505e"/>
<rect x="648" y="116" width="3" height="12" fill="#ea3f50"/>
<rect x="653" y="98" width="1" height="7" fill="#32877a"/>
<rect x="653" y="128" width="1" height="8" fill="#32877a"/>
<rect x="652" y="105" width="3" height="23" fill="#12997f"/>
<rect x="658" y="96" width="1" height="2" fill="#32877a"/>
<rect x="658" y="106" width="1" height="6" fill="#32877a"/>
<rect x="657" y="98" width="3" height="8" fill="#12997f"/>
<rect x="663" y="94" width="1" height="4" fill="#c8505e"/>
<rect x="663" y="120" width="1" height="5" fill="#c8505e"/>
<rect x="662" y="98" width="3" height="22" fill="#ea3f50"/>
<rect x="668" y="110" width="1" height="9" fill="#c8505e"/>
<rect x="668" y="131" width="1" height="3" fill="#c8505e"/>
<rect x="667" y="119" width="3" height="12" fill="#ea3f50"/>
<rect x="673" y="125" width="1" height="4" fill="#32877a"/>
<rect x="673" y="131" width="1" height="2" fill="#32877a"/>
<rect x="672" y="129" width="3" height="2" fill="#12997f"/>
<rect x="678" y="144" width="1" height="5" fill="#c8505e"/>
<rect x="677" y="129" width="3" height="15" fill="#ea3f50"/>
<rect x="683" y="138" width="1" height="5" fill="#c8505e"/>
<rect x="683" y="154" width="1" height="10" fill="#c8505e"/>
<rect x="682" y="143" width="3" height="11" fill="#ea3f50"/>
<rect x="687" y="124" width="1" height="21" fill="#32877a"/>
<rect x="687" y="154" width="1" height="9" fill="#32877a"/>
<rect x="686" y="145" width="3" height="9" fill="#12997f"/>
<rect x="692" y="133" width="1" height="2" fill="#32877a"/>
<rect x="691" y="135" width="3" height="11" fill="#12997f"/>
<rect x="697" y="115" width="1" height="5" fill="#32877a"/>
<rect x="697" y="136" width="1" height="1" fill="#32877a"/>
<rect x="696" y="120" width="3" height="16" fill="#12997f"/>
<rect x="702" y="111" width="1" height="6" fill="#32877a"/>
<rect x="702" y="121" width="1" height="6" fill="#32877a"/>
<rect x="701" y="117" width="3" height="4" fill="#12997f"/>
<rect x="707" y="112" width="1" height="4" fill="#32877a"/>
<rect x="707" y="117" width="1" height="2" fill="#32877a"/>
<rect x="706" y="116" width="3" height="1" fill="#12997f"/>
<rect x="712" y="113" width="1" height="3" fill="#32877a"/>
<rect x="712" y="117" width="1" height="5" fill="#32877a"/>
<rect x="711" y="116" width="3" height="1" fill="#12997f"/>
<rect x="715" y="88" width="3" height="29" fill="#12997f"/>
<rect x="721" y="84" width="1" height="4" fill="#c8505e"/>
<rect x="721" y="116" width="1" height="7" fill="#c8505e"/>
<rect x="720" y="88" width="3" height="28" fill="#ea3f50"/>
<rect x="726" y="129" width="1" height="8" fill="#c8505e"/>
<rect x="725" y="115" width="3" height="14" fill="#ea3f50"/>
<rect x="731" y="127" width="1" height="1" fill="#c8505e"/>
<rect x="731" y="145" width="1" height="4" fill="#c8505e"/>
<rect x="730" y="128" width="3" height="17" fill="#ea3f50"/>
<rect x="736" y="121" width="1" height="7" fill="#32877a"/>
<rect x="735" y="128" width="3" height="17" fill="#12997f"/>
<rect x="741" y="134" width="1" height="1" fill="#c8505e"/>
<rect x="740" y="128" width="3" height="6" fill="#ea3f50"/>
<rect x="746" y="124" width="1" height="6" fill="#32877a"/>
<rect x="746" y="134" width="1" height="2" fill="#32877a"/>
<rect x="745" y="130" width="3" height="4" fill="#12997f"/>
<rect x="750" y="123" width="1" height="7" fill="#32877a"/>
<rect x="750" y="131" width="1" height="26" fill="#32877a"/>
<rect x="749" y="130" width="3" height="1" fill="#12997f"/>
<rect x="755" y="115" width="1" height="8" fill="#32877a"/>
<rect x="755" y="131" width="1" height="2" fill="#32877a"/>
<rect x="754" y="123" width="3" height="8" fill="#12997f"/>
<rect x="760" y="100" width="1" height="2" fill="#32877a"/>
<rect x="760" y="124" width="1" height="1" fill="#32877a"/>
<rect x="759" y="102" width="3" height="22" fill="#12997f"/>
<rect x="765" y="100" width="1" height="2" fill="#c8505e"/>
<rect x="765" y="106" width="1" height="13" fill="#c8505e"/>
<rect x="764" y="102" width="3" height="4" fill="#ea3f50"/>
<rect x="770" y="61" width="1" height="15" fill="#32877a"/>
<rect x="769" y="76" width="3" height="30" fill="#12997f"/>
<rect x="775" y="56" width="1" height="4" fill="#32877a"/>
<rect x="775" y="76" width="1" height="4" fill="#32877a"/>
<rect x="774" y="60" width="3" height="16" fill="#12997f"/>
<rect x="780" y="40" width="1" height="20" fill="#c8505e"/>
<rect x="780" y="69" width="1" height="15" fill="#c8505e"/>
<rect x="779" y="60" width="3" height="9" fill="#ea3f50"/>
<rect x="784" y="40" width="1" height="28" fill="#c8505e"/>
<rect x="784" y="73" width="1" height="7" fill="#c8505e"/>
<rect x="783" y="68" width="3" height="5" fill="#ea3f50"/>
<rect x="789" y="46" width="1" height="4" fill="#32877a"/>
<rect x="789" y="73" width="1" height="10" fill="#32877a"/>
<rect x="788" y="50" width="3" height="23" fill="#12997f"/>
<rect x="794" y="49" width="1" height="1" fill="#c8505e"/>
<rect x="794" y="65" width="1" height="2" fill="#c8505e"/>
<rect x="793" y="50" width="3" height="15" fill="#ea3f50"/>
<rect x="799" y="45" width="1" height="19" fill="#32877a"/>
<rect x="799" y="65" width="1" height="14" fill="#32877a"/>
<rect x="798" y="64" width="3" height="1" fill="#12997f"/>
<rect x="804" y="44" width="1" height="8" fill="#32877a"/>
<rect x="804" y="65" width="1" height="3" fill="#32877a"/>
<rect x="803" y="52" width="3" height="13" fill="#12997f"/>
<rect x="809" y="50" width="1" height="2" fill="#c8505e"/>
<rect x="809" y="53" width="1" height="1" fill="#c8505e"/>
<rect x="808" y="52" width="3" height="1" fill="#ea3f50"/>
<rect x="813" y="49" width="1" height="4" fill="#c8505e"/>
<rect x="812" y="53" width="3" height="6" fill="#ea3f50"/>
<rect x="818" y="53" width="1" height="5" fill="#c8505e"/>
<rect x="818" y="64" width="1" height="18" fill="#c8505e"/>
<rect x="817" y="58" width="3" height="6" fill="#ea3f50"/>
<rect x="823" y="56" width="1" height="3" fill="#32877a"/>
<rect x="823" y="64" width="1" height="4" fill="#32877a"/>
<rect x="822" y="59" width="3" height="5" fill="#12997f"/>
<rect x="828" y="42" width="1" height="2" fill="#32877a"/>
<rect x="827" y="44" width="3" height="16" fill="#12997f"/>
<rect x="833" y="40" width="1" height="4" fill="#c8505e"/>
<rect x="832" y="44" width="3" height="5" fill="#ea3f50"/>
<rect x="838" y="40" width="1" height="8" fill="#c8505e"/>
<rect x="838" y="57" width="1" height="4" fill="#c8505e"/>
<rect x="837" y="48" width="3" height="9" fill="#ea3f50"/>
<rect x="843" y="48" width="1" height="3" fill="#32877a"/>
<rect x="843" y="57" width="1" height="2" fill="#32877a"/>
<rect x="842" y="51" width="3" height="6" fill="#12997f"/>
<rect x="847" y="49" width="1" height="3" fill="#c8505e"/>
<rect x="847" y="69" width="1" height="7" fill="#c8505e"/>
<rect x="846" y="52" width="3" height="17" fill="#ea3f50"/>
<rect x="852" y="41" width="1" height="7" fill="#32877a"/>
<rect x="852" y="69" width="1" height="44" fill="#32877a"/>
<rect x="851" y="48" width="3" height="21" fill="#12997f"/>
<rect x="857" y="43" width="1" height="5" fill="#c8505e"/>
<rect x="857" y="69" width="1" height="6" fill="#c8505e"/>
<rect x="856" y="48" width="3" height="21" fill="#ea3f50"/>
<rect x="862" y="61" width="1" height="7" fill="#c8505e"/>
<rect x="861" y="68" width="3" height="15" fill="#ea3f50"/>
<rect x="867" y="69" width="1" height="13" fill="#c8505e"/>
<rect x="867" y="83" width="1" height="7" fill="#c8505e"/>
<rect x="866" y="82" width="3" height="1" fill="#ea3f50"/>
<rect x="872" y="69" width="1" height="13" fill="#c8505e"/>
<rect x="872" y="91" width="1" height="5" fill="#c8505e"/>
<rect x="871" y="82" width="3" height="9" fill="#ea3f50"/>
<rect x="877" y="89" width="1" height="2" fill="#c8505e"/>
<rect x="877" y="96" width="1" height="4" fill="#c8505e"/>
<rect x="876" y="91" width="3" height="5" fill="#ea3f50"/>
<rect x="881" y="91" width="1" height="4" fill="#c8505e"/>
<rect x="881" y="101" width="1" height="8" fill="#c8505e"/>
<rect x="880" y="95" width="3" height="6" fill="#ea3f50"/>
<rect x="886" y="96" width="1" height="4" fill="#32877a"/>
<rect x="886" y="101" width="1" height="8" fill="#32877a"/>
<rect x="885" y="100" width="3" height="1" fill="#12997f"/>
<rect x="891" y="96" width="1" height="4" fill="#c8505e"/>
<rect x="891" y="110" width="1" height="5" fill="#c8505e"/>
<rect x="890" y="100" width="3" height="10" fill="#ea3f50"/>
<rect x="896" y="98" width="1" height="2" fill="#32877a"/>
<rect x="896" y="110" width="1" height="14" fill="#32877a"/>
<rect x="895" y="100" width="3" height="10" fill="#12997f"/>
<rect x="901" y="99" width="1" height="1" fill="#c8505e"/>
<rect x="901" y="112" width="1" height="5" fill="#c8505e"/>
<rect x="900" y="100" width="3" height="12" fill="#ea3f50"/>
<rect x="906" y="99" width="1" height="7" fill="#32877a"/>
<rect x="906" y="112" width="1" height="2" fill="#32877a"/>
<rect x="905" y="106" width="3" height="6" fill="#12997f"/>
<rect x="910" y="101" width="1" height="1" fill="#32877a"/>
<rect x="910" y="106" width="1" height="2" fill="#32877a"/>
<rect x="909" y="102" width="3" height="4" fill="#12997f"/>
<rect x="915" y="112" width="1" height="1" fill="#c8505e"/>
<rect x="914" y="102" width="3" height="10" fill="#ea3f50"/>
<rect x="920" y="110" width="1" height="2" fill="#c8505e"/>
<rect x="919" y="112" width="3" height="8" fill="#ea3f50"/>
<rect x="925" y="113" width="1" height="5" fill="#c8505e"/>
<rect x="925" y="122" width="1" height="14" fill="#c8505e"/>
<rect x="924" y="118" width="3" height="4" fill="#ea3f50"/>
<rect x="930" y="117" width="1" height="2" fill="#32877a"/>
<rect x="930" y="122" width="1" height="7" fill="#32877a"/>
<rect x="929" y="119" width="3" height="3" fill="#12997f"/>
<rect x="935" y="110" width="1" height="1" fill="#32877a"/>
<rect x="935" y="120" width="1" height="2" fill="#32877a"/>
<rect x="934" y="111" width="3" height="9" fill="#12997f"/>
<rect x="940" y="108" width="1" height="3" fill="#c8505e"/>
<rect x="940" y="127" width="1" height="7" fill="#c8505e"/>
<rect x="939" y="111" width="3" height="16" fill="#ea3f50"/>
<rect x="944" y="125" width="1" height="1" fill="#c8505e"/>
<rect x="944" y="130" width="1" height="1" fill="#c8505e"/>
<rect x="943" y="126" width="3" height="4" fill="#ea3f50"/>
<rect x="949" y="128" width="1" height="1" fill="#c8505e"/>
<rect x="948" y="129" width="3" height="11" fill="#ea3f50"/>
<rect x="954" y="150" width="1" height="4" fill="#c8505e"/>
<rect x="953" y="154" width="3" height="33" fill="#ea3f50"/>
<rect x="959" y="171" width="1" height="15" fill="#c8505e"/>
<rect x="959" y="202" width="1" height="26" fill="#c8505e"/>
<rect x="958" y="186" width="3" height="16" fill="#ea3f50"/>
<rect x="964" y="199" width="1" height="2" fill="#c8505e"/>
<rect x="964" y="243" width="1" height="13" fill="#c8505e"/>
<rect x="963" y="201" width="3" height="42" fill="#ea3f50"/>
<rect x="969" y="215" width="1" height="18" fill="#32877a"/>
<rect x="969" y="243" width="1" height="7" fill="#32877a"/>
<rect x="968" y="233" width="3" height="10" fill="#12997f"/>
<rect x="974" y="226" width="1" height="6" fill="#32877a"/>
<rect x="974" y="233" width="1" height="50" fill="#32877a"/>
<rect x="973" y="232" width="3" height="1" fill="#12997f"/>
<rect x="978" y="204" width="1" height="5" fill="#32877a"/>
<rect x="978" y="233" width="1" height="6" fill="#32877a"/>
<rect x="977" y="209" width="3" height="24" fill="#12997f"/>
<rect x="983" y="123" width="1" height="6" fill="#32877a"/>
<rect x="983" y="210" width="1" height="9" fill="#32877a"/>
<rect x="982" y="129" width="3" height="81" fill="#12997f"/>
<rect x="988" y="127" width="1" height="2" fill="#c8505e"/>
<rect x="988" y="199" width="1" height="10" fill="#c8505e"/>
<rect x="987" y="129" width="3" height="70" fill="#ea3f50"/>
<rect x="993" y="178" width="1" height="17" fill="#32877a"/>
<rect x="993" y="199" width="1" height="41" fill="#32877a"/>
<rect x="992" y="195" width="3" height="4" fill="#12997f"/>
<rect x="998" y="163" width="1" height="6" fill="#32877a"/>
<rect x="998" y="196" width="1" height="8" fill="#32877a"/>
<rect x="997" y="169" width="3" height="27" fill="#12997f"/>
<rect x="1003" y="152" width="1" height="17" fill="#c8505e"/>
<rect x="1003" y="177" width="1" height="15" fill="#c8505e"/>
<rect x="1002" y="169" width="3" height="8" fill="#ea3f50"/>
<rect x="1007" y="165" width="1" height="11" fill="#c8505e"/>
<rect x="1007" y="202" width="1" height="13" fill="#c8505e"/>
<rect x="1006" y="176" width="3" height="26" fill="#ea3f50"/>
<rect x="1012" y="199" width="1" height="2" fill="#c8505e"/>
<rect x="1012" y="208" width="1" height="6" fill="#c8505e"/>
<rect x="1011" y="201" width="3" height="7" fill="#ea3f50"/>
<rect x="1017" y="206" width="1" height="1" fill="#c8505e"/>
<rect x="1017" y="255" width="1" height="6" fill="#c8505e"/>
<rect x="1016" y="207" width="3" height="48" fill="#ea3f50"/>
<rect x="1022" y="230" width="1" height="24" fill="#c8505e"/>
<rect x="1022" y="278" width="1" height="7" fill="#c8505e"/>
<rect x="1021" y="254" width="3" height="24" fill="#ea3f50"/>
<rect x="1027" y="235" width="1" height="5" fill="#32877a"/>
<rect x="1027" y="278" width="1" height="16" fill="#32877a"/>
<rect x="1026" y="240" width="3" height="38" fill="#12997f"/>
<rect x="1032" y="229" width="1" height="6" fill="#32877a"/>
<rect x="1032" y="241" width="1" height="18" fill="#32877a"/>
<rect x="1031" y="235" width="3" height="6" fill="#12997f"/>
<rect x="1037" y="232" width="1" height="3" fill="#c8505e"/>
<rect x="1037" y="260" width="1" height="7" fill="#c8505e"/>
<rect x="1036" y="235" width="3" height="25" fill="#ea3f50"/>
<rect x="1041" y="226" width="1" height="10" fill="#32877a"/>
<rect x="1041" y="260" width="1" height="2" fill="#32877a"/>
<rect x="1040" y="236" width="3" height="24" fill="#12997f"/>
<rect x="1046" y="230" width="1" height="5" fill="#32877a"/>
<rect x="1046" y="237" width="1" height="2" fill="#32877a"/>
<rect x="1045" y="235" width="3" height="2" fill="#12997f"/>
<rect x="1051" y="229" width="1" height="5" fill="#c8505e"/>
<rect x="1051" y="250" width="1" height="4" fill="#c8505e"/>
<rect x="1050" y="234" width="3" height="16" fill="#ea3f50"/>
</g>
<polyline fill="none" stroke="#4888d0" stroke-width="1.7" stroke-opacity="0.95" stroke-linejoin="round" points="347.5,467.4 386.5,387.5 415.8,456.7 459.7,187.3 483.6,227.0 503.4,147.2"/>
<g filter="url(#idf)">
<text x="387.9" y="372.9" font-size="18" fill="#4d8fd6" stroke="#4d8fd6" stroke-width="0.35" text-anchor="middle">(1)</text>
<text x="416.9" y="483.3" font-size="18" fill="#4d8fd6" stroke="#4d8fd6" stroke-width="0.35" text-anchor="middle">(2)</text>
<text x="459.9" y="172.3" font-size="18" fill="#4d8fd6" stroke="#4d8fd6" stroke-width="0.35" text-anchor="middle">(3)</text>
<text x="484.9" y="253.9" font-size="18" fill="#4d8fd6" stroke="#4d8fd6" stroke-width="0.35" text-anchor="middle">(4)</text>
<text x="504.0" y="133.2" font-size="18" fill="#4d8fd6" stroke="#4d8fd6" stroke-width="0.35" text-anchor="middle">(5)</text>
</g>
<rect x="0" y="714" width="1054" height="1" fill="#2e2e2e" shape-rendering="crispEdges"/>
<polygon clip-path="url(#cob)" fill="url(#ob)" points="-2,831 -1.5,952.0 3.0,943.4 8.0,935.2 13.0,951.1 18.0,960.8 23.0,948.6 28.0,943.4 33.0,953.5 37.0,952.6 42.0,959.6 47.0,934.9 52.0,943.4 57.0,906.8 62.0,904.4 67.0,901.3 71.0,920.6 76.0,953.2 81.0,957.2 86.0,954.1 91.0,956.6 96.0,958.1 100.0,977.0 105.0,950.2 110.0,967.2 115.0,962.7 120.0,983.1 125.0,1002.3 130.0,1002.3 134.0,987.7 139.0,950.2 144.0,940.4 149.0,947.1 154.0,935.2 159.0,903.8 164.0,909.9 168.0,920.6 173.0,934.9 178.0,902.9 183.0,887.0 188.0,874.8 193.0,869.6 197.0,870.2 202.0,865.0 207.0,870.2 212.0,863.5 217.0,880.0 222.0,859.5 227.0,851.3 231.0,856.5 236.0,870.8 241.0,905.3 246.0,941.3 251.0,937.2 256.0,926.5 261.0,904.7 265.0,903.7 270.0,895.7 275.0,905.7 280.0,903.4 285.0,933.4 290.0,937.7 294.0,898.6 299.0,890.0 304.0,894.3 309.0,847.1 314.0,830.6 319.0,822.9 324.0,821.4 328.0,810.6 333.0,810.0 338.0,804.9 343.0,843.4 348.0,837.1 353.0,849.1 358.0,832.3 362.0,840.0 367.0,837.1 372.0,828.0 377.0,804.9 382.0,782.3 387.0,798.6 391.0,842.9 396.0,857.1 401.0,857.1 406.0,878.6 411.0,904.3 416.0,880.0 421.0,823.4 425.0,822.0 430.0,809.4 435.0,815.1 440.0,788.0 445.0,760.0 450.0,758.6 455.0,754.3 459.0,800.0 464.0,788.6 469.0,798.6 474.0,805.1 479.0,802.9 484.0,796.3 488.0,785.7 493.0,775.7 498.0,778.6 503.0,785.7 508.0,795.7 513.0,853.8 518.0,862.0 522.0,842.3 527.0,840.9 532.0,834.9 537.0,843.7 542.0,843.4 547.0,845.1 552.0,844.3 556.0,818.6 561.0,835.1 566.0,825.7 571.0,830.0 576.0,819.7 581.0,847.1 585.0,853.7 590.0,826.6 595.0,832.3 600.0,824.3 605.0,818.0 610.0,803.7 615.0,789.1 619.0,783.4 624.0,860.6 629.0,862.0 634.0,858.6 639.0,862.0 644.0,888.6 649.0,906.3 653.0,880.0 658.0,872.3 663.0,903.7 668.0,919.4 673.0,917.7 678.0,934.3 683.0,948.6 687.0,934.3 692.0,918.6 697.0,901.4 702.0,896.6 707.0,895.1 712.0,894.9 716.0,858.6 721.0,902.9 726.0,922.0 731.0,942.3 736.0,920.9 741.0,927.1 746.0,923.7 750.0,923.3 755.0,911.7 760.0,883.4 765.0,887.4 770.0,852.9 775.0,838.6 780.0,851.4 784.0,861.4 789.0,839.1 794.0,864.3 799.0,864.3 804.0,852.0 809.0,853.4 813.0,864.3 818.0,875.7 823.0,869.1 828.0,849.4 833.0,860.0 838.0,876.6 843.0,871.4 847.0,904.9 852.0,874.3 857.0,910.6 862.0,931.4 867.0,932.9 872.0,943.7 877.0,950.0 881.0,957.7 886.0,957.7 891.0,970.6 896.0,950.6 901.0,965.7 906.0,956.6 910.0,948.4 915.0,963.3 920.0,972.7 925.0,977.0 930.0,971.2 935.0,952.4 940.0,975.8 944.0,982.0 949.0,995.0 954.0,1048.0 959.0,1075.0 964.0,1085.0 969.0,1075.0 974.0,1051.0 978.0,990.0 983.0,907.2 988.0,961.5 993.0,958.9 998.0,935.4 1003.0,940.7 1007.0,958.3 1012.0,963.0 1017.0,989.4 1022.0,999.7 1027.0,967.1 1032.0,963.0 1037.0,976.5 1041.0,956.1 1046.0,954.5 1051.0,964.2 1056.0,959.8 1056,831"/>
<polygon clip-path="url(#cos)" fill="url(#os)" opacity="0.9" points="-2,1009 -1.5,952.0 3.0,943.4 8.0,935.2 13.0,951.1 18.0,960.8 23.0,948.6 28.0,943.4 33.0,953.5 37.0,952.6 42.0,959.6 47.0,934.9 52.0,943.4 57.0,906.8 62.0,904.4 67.0,901.3 71.0,920.6 76.0,953.2 81.0,957.2 86.0,954.1 91.0,956.6 96.0,958.1 100.0,977.0 105.0,950.2 110.0,967.2 115.0,962.7 120.0,983.1 125.0,1002.3 130.0,1002.3 134.0,987.7 139.0,950.2 144.0,940.4 149.0,947.1 154.0,935.2 159.0,903.8 164.0,909.9 168.0,920.6 173.0,934.9 178.0,902.9 183.0,887.0 188.0,874.8 193.0,869.6 197.0,870.2 202.0,865.0 207.0,870.2 212.0,863.5 217.0,880.0 222.0,859.5 227.0,851.3 231.0,856.5 236.0,870.8 241.0,905.3 246.0,941.3 251.0,937.2 256.0,926.5 261.0,904.7 265.0,903.7 270.0,895.7 275.0,905.7 280.0,903.4 285.0,933.4 290.0,937.7 294.0,898.6 299.0,890.0 304.0,894.3 309.0,847.1 314.0,830.6 319.0,822.9 324.0,821.4 328.0,810.6 333.0,810.0 338.0,804.9 343.0,843.4 348.0,837.1 353.0,849.1 358.0,832.3 362.0,840.0 367.0,837.1 372.0,828.0 377.0,804.9 382.0,782.3 387.0,798.6 391.0,842.9 396.0,857.1 401.0,857.1 406.0,878.6 411.0,904.3 416.0,880.0 421.0,823.4 425.0,822.0 430.0,809.4 435.0,815.1 440.0,788.0 445.0,760.0 450.0,758.6 455.0,754.3 459.0,800.0 464.0,788.6 469.0,798.6 474.0,805.1 479.0,802.9 484.0,796.3 488.0,785.7 493.0,775.7 498.0,778.6 503.0,785.7 508.0,795.7 513.0,853.8 518.0,862.0 522.0,842.3 527.0,840.9 532.0,834.9 537.0,843.7 542.0,843.4 547.0,845.1 552.0,844.3 556.0,818.6 561.0,835.1 566.0,825.7 571.0,830.0 576.0,819.7 581.0,847.1 585.0,853.7 590.0,826.6 595.0,832.3 600.0,824.3 605.0,818.0 610.0,803.7 615.0,789.1 619.0,783.4 624.0,860.6 629.0,862.0 634.0,858.6 639.0,862.0 644.0,888.6 649.0,906.3 653.0,880.0 658.0,872.3 663.0,903.7 668.0,919.4 673.0,917.7 678.0,934.3 683.0,948.6 687.0,934.3 692.0,918.6 697.0,901.4 702.0,896.6 707.0,895.1 712.0,894.9 716.0,858.6 721.0,902.9 726.0,922.0 731.0,942.3 736.0,920.9 741.0,927.1 746.0,923.7 750.0,923.3 755.0,911.7 760.0,883.4 765.0,887.4 770.0,852.9 775.0,838.6 780.0,851.4 784.0,861.4 789.0,839.1 794.0,864.3 799.0,864.3 804.0,852.0 809.0,853.4 813.0,864.3 818.0,875.7 823.0,869.1 828.0,849.4 833.0,860.0 838.0,876.6 843.0,871.4 847.0,904.9 852.0,874.3 857.0,910.6 862.0,931.4 867.0,932.9 872.0,943.7 877.0,950.0 881.0,957.7 886.0,957.7 891.0,970.6 896.0,950.6 901.0,965.7 906.0,956.6 910.0,948.4 915.0,963.3 920.0,972.7 925.0,977.0 930.0,971.2 935.0,952.4 940.0,975.8 944.0,982.0 949.0,995.0 954.0,1048.0 959.0,1075.0 964.0,1085.0 969.0,1075.0 974.0,1051.0 978.0,990.0 983.0,907.2 988.0,961.5 993.0,958.9 998.0,935.4 1003.0,940.7 1007.0,958.3 1012.0,963.0 1017.0,989.4 1022.0,999.7 1027.0,967.1 1032.0,963.0 1037.0,976.5 1041.0,956.1 1046.0,954.5 1051.0,964.2 1056.0,959.8 1056,1009"/>
<line x1="0" y1="831.5" x2="1054" y2="831.5" stroke="#ffffff" stroke-width="1.15" stroke-dasharray="5 6" stroke-dashoffset="4"/>
<line x1="0" y1="1009.5" x2="1054" y2="1009.5" stroke="#ffffff" stroke-width="1.15" stroke-dasharray="5 6" stroke-dashoffset="4"/>
<line x1="0" y1="920.5" x2="1054" y2="920.5" stroke="#66646e" stroke-width="1" stroke-dasharray="5 6" stroke-dashoffset="4"/>
<polyline fill="none" stroke="#5aa25e" stroke-width="0.95" stroke-linejoin="round" points="-1.5,952.0 3.0,943.4 8.0,935.2 13.0,951.1 18.0,960.8 23.0,948.6 28.0,943.4 33.0,953.5 37.0,952.6 42.0,959.6 47.0,934.9 52.0,943.4 57.0,906.8 62.0,904.4 67.0,901.3 71.0,920.6 76.0,953.2 81.0,957.2 86.0,954.1 91.0,956.6 96.0,958.1 100.0,977.0 105.0,950.2 110.0,967.2 115.0,962.7 120.0,983.1 125.0,1002.3 130.0,1002.3 134.0,987.7 139.0,950.2 144.0,940.4 149.0,947.1 154.0,935.2 159.0,903.8 164.0,909.9 168.0,920.6 173.0,934.9 178.0,902.9 183.0,887.0 188.0,874.8 193.0,869.6 197.0,870.2 202.0,865.0 207.0,870.2 212.0,863.5 217.0,880.0 222.0,859.5 227.0,851.3 231.0,856.5 236.0,870.8 241.0,905.3 246.0,941.3 251.0,937.2 256.0,926.5 261.0,904.7 265.0,903.7 270.0,895.7 275.0,905.7 280.0,903.4 285.0,933.4 290.0,937.7 294.0,898.6 299.0,890.0 304.0,894.3 309.0,847.1 314.0,830.6 319.0,822.9 324.0,821.4 328.0,810.6 333.0,810.0 338.0,804.9 343.0,843.4 348.0,837.1 353.0,849.1 358.0,832.3 362.0,840.0 367.0,837.1 372.0,828.0 377.0,804.9 382.0,782.3 387.0,798.6 391.0,842.9 396.0,857.1 401.0,857.1 406.0,878.6 411.0,904.3 416.0,880.0 421.0,823.4 425.0,822.0 430.0,809.4 435.0,815.1 440.0,788.0 445.0,760.0 450.0,758.6 455.0,754.3 459.0,800.0 464.0,788.6 469.0,798.6 474.0,805.1 479.0,802.9 484.0,796.3 488.0,785.7 493.0,775.7 498.0,778.6 503.0,785.7 508.0,795.7 513.0,853.8 518.0,862.0 522.0,842.3 527.0,840.9 532.0,834.9 537.0,843.7 542.0,843.4 547.0,845.1 552.0,844.3 556.0,818.6 561.0,835.1 566.0,825.7 571.0,830.0 576.0,819.7 581.0,847.1 585.0,853.7 590.0,826.6 595.0,832.3 600.0,824.3 605.0,818.0 610.0,803.7 615.0,789.1 619.0,783.4 624.0,860.6 629.0,862.0 634.0,858.6 639.0,862.0 644.0,888.6 649.0,906.3 653.0,880.0 658.0,872.3 663.0,903.7 668.0,919.4 673.0,917.7 678.0,934.3 683.0,948.6 687.0,934.3 692.0,918.6 697.0,901.4 702.0,896.6 707.0,895.1 712.0,894.9 716.0,858.6 721.0,902.9 726.0,922.0 731.0,942.3 736.0,920.9 741.0,927.1 746.0,923.7 750.0,923.3 755.0,911.7 760.0,883.4 765.0,887.4 770.0,852.9 775.0,838.6 780.0,851.4 784.0,861.4 789.0,839.1 794.0,864.3 799.0,864.3 804.0,852.0 809.0,853.4 813.0,864.3 818.0,875.7 823.0,869.1 828.0,849.4 833.0,860.0 838.0,876.6 843.0,871.4 847.0,904.9 852.0,874.3 857.0,910.6 862.0,931.4 867.0,932.9 872.0,943.7 877.0,950.0 881.0,957.7 886.0,957.7 891.0,970.6 896.0,950.6 901.0,965.7 906.0,956.6 910.0,948.4 915.0,963.3 920.0,972.7 925.0,977.0 930.0,971.2 935.0,952.4 940.0,975.8 944.0,982.0 949.0,995.0 954.0,1048.0 959.0,1075.0 964.0,1085.0 969.0,1075.0 974.0,1051.0 978.0,990.0 983.0,907.2 988.0,961.5 993.0,958.9 998.0,935.4 1003.0,940.7 1007.0,958.3 1012.0,963.0 1017.0,989.4 1022.0,999.7 1027.0,967.1 1032.0,963.0 1037.0,976.5 1041.0,956.1 1046.0,954.5 1051.0,964.2 1056.0,959.8"/>
<line x1="459.4" y1="752.3" x2="508.6" y2="792.3" stroke="#2b62e8" stroke-width="2.3"/>
<circle cx="459.4" cy="752.3" r="5.3" fill="#000" stroke="#2b62e8" stroke-width="2.3"/>
<circle cx="508.6" cy="792.3" r="5.3" fill="#000" stroke="#2b62e8" stroke-width="2.3"/>
<g filter="url(#idf)">
<text x="5" y="735.6" font-size="12" font-weight="bold" fill="#dcdcdc" textLength="17" lengthAdjust="spacingAndGlyphs">RSI</text>
<text x="26.3" y="735.6" font-size="12" fill="#9a9a9a" textLength="46" lengthAdjust="spacingAndGlyphs">14 close</text>
<text x="80.8" y="735.6" font-size="12" fill="#55ab58" textLength="31.6" lengthAdjust="spacingAndGlyphs">43.68</text>
</g>
<rect x="4.5" y="3.5" width="28" height="20" rx="2.5" fill="#000" fill-opacity="0.85" stroke="#555" stroke-width="1"/>
<polyline points="14.4,15.6 18.5,11.6 22.6,15.6" fill="none" stroke="#dadada" stroke-width="1.5"/>
<rect x="579" y="3" width="328" height="38" rx="6" fill="#1e1e1e"/>
<g fill="#555" shape-rendering="crispEdges">
<rect x="587" y="16" width="2" height="2"/>
<rect x="587" y="21" width="2" height="2"/>
<rect x="587" y="26" width="2" height="2"/>
<rect x="593" y="16" width="2" height="2"/>
<rect x="593" y="21" width="2" height="2"/>
<rect x="593" y="26" width="2" height="2"/>
</g>
<g fill="#1e1e1e" stroke="#dedede" stroke-width="0.95">
<line x1="613.3" y1="30.4" x2="630.5" y2="13.4"/>
<circle cx="613.3" cy="30.4" r="2.3"/>
<circle cx="630.5" cy="13.4" r="2.3"/>
<line x1="650.0" y1="22.4" x2="671.0" y2="22.4"/>
<circle cx="660.5" cy="22.4" r="2.3"/>
<polyline fill="none" points="687.5,31.7 690.4,18.2 694.4,26.8 698.3,12.0 702.3,26.8 706.3,18.2 709.2,31.7"/>
<line x1="685.0" y1="26.6" x2="711.2" y2="26.6"/>
<circle cx="687.5" cy="31.7" r="2.3"/>
<circle cx="690.4" cy="18.2" r="2.3"/>
<circle cx="694.4" cy="26.8" r="2.3"/>
<circle cx="698.3" cy="12.0" r="2.3"/>
<circle cx="702.3" cy="26.8" r="2.3"/>
<circle cx="706.3" cy="18.2" r="2.3"/>
<circle cx="709.2" cy="31.7" r="2.3"/>
<polyline fill="none" points="725.3,27.6 732.5,20.5 739.6,27.6 746.7,20.5"/>
<circle cx="725.3" cy="27.6" r="2.3"/>
<circle cx="732.5" cy="20.5" r="2.3"/>
<circle cx="739.6" cy="27.6" r="2.3"/>
<circle cx="746.7" cy="20.5" r="2.3"/>
<polyline fill="none" points="763.2,27.6 770.4,20.5 777.5,27.6 784.5,20.5"/>
<circle cx="763.2" cy="27.6" r="2.3"/>
<circle cx="770.4" cy="20.5" r="2.3"/>
<circle cx="777.5" cy="27.6" r="2.3"/>
<circle cx="784.5" cy="20.5" r="2.3"/>
<line x1="804.0" y1="14.6" x2="822.0" y2="14.6"/>
<circle cx="802.3" cy="14.6" r="2.3"/>
<line x1="802.3" y1="24.3" x2="820.5" y2="24.3"/>
<circle cx="802.3" cy="24.3" r="2.3"/>
<circle cx="820.5" cy="24.3" r="2.3"/>
<line x1="804.0" y1="30.4" x2="822.0" y2="30.4"/>
<circle cx="802.3" cy="30.4" r="2.3"/>
<circle cx="807.1" cy="22.2" r="0.65" fill="#dedede" stroke="none"/>
<circle cx="811.3" cy="20.5" r="0.65" fill="#dedede" stroke="none"/>
<circle cx="815.6" cy="18.6" r="0.65" fill="#dedede" stroke="none"/>
<circle cx="819.8" cy="16.9" r="0.65" fill="#dedede" stroke="none"/>
<line x1="842.0" y1="14.6" x2="860.0" y2="14.6"/>
<circle cx="840.3" cy="14.6" r="2.3"/>
<line x1="840.3" y1="20.5" x2="858.7" y2="20.5"/>
<circle cx="840.3" cy="20.5" r="2.3"/>
<circle cx="858.7" cy="20.5" r="2.3"/>
<line x1="842.0" y1="30.4" x2="860.0" y2="30.4"/>
<circle cx="840.3" cy="30.4" r="2.3"/>
<circle cx="845.2" cy="22.8" r="0.65" fill="#dedede" stroke="none"/>
<circle cx="849.4" cy="24.5" r="0.65" fill="#dedede" stroke="none"/>
<circle cx="853.5" cy="26.4" r="0.65" fill="#dedede" stroke="none"/>
<circle cx="857.7" cy="27.9" r="0.65" fill="#dedede" stroke="none"/>
<rect x="879.6" y="13.4" width="17.1" height="17.1" fill="none"/>
<circle cx="879.6" cy="13.4" r="2.3"/>
<circle cx="896.7" cy="13.4" r="2.3"/>
<circle cx="879.6" cy="30.5" r="2.3"/>
<circle cx="896.7" cy="30.5" r="2.3"/>
</g>
<g filter="url(#idf)">
<text x="732.3" y="14.9" font-size="8.3" font-weight="bold" fill="#dedede" text-anchor="middle">1</text>
<text x="747.3" y="14.9" font-size="8.3" font-weight="bold" fill="#dedede" text-anchor="middle">5</text>
<text x="770.6" y="14.9" font-size="8.3" font-weight="bold" fill="#dedede" text-anchor="middle">A</text>
<text x="784.9" y="14.9" font-size="8.3" font-weight="bold" fill="#dedede" text-anchor="middle">C</text>
</g>
</svg></body></html>
